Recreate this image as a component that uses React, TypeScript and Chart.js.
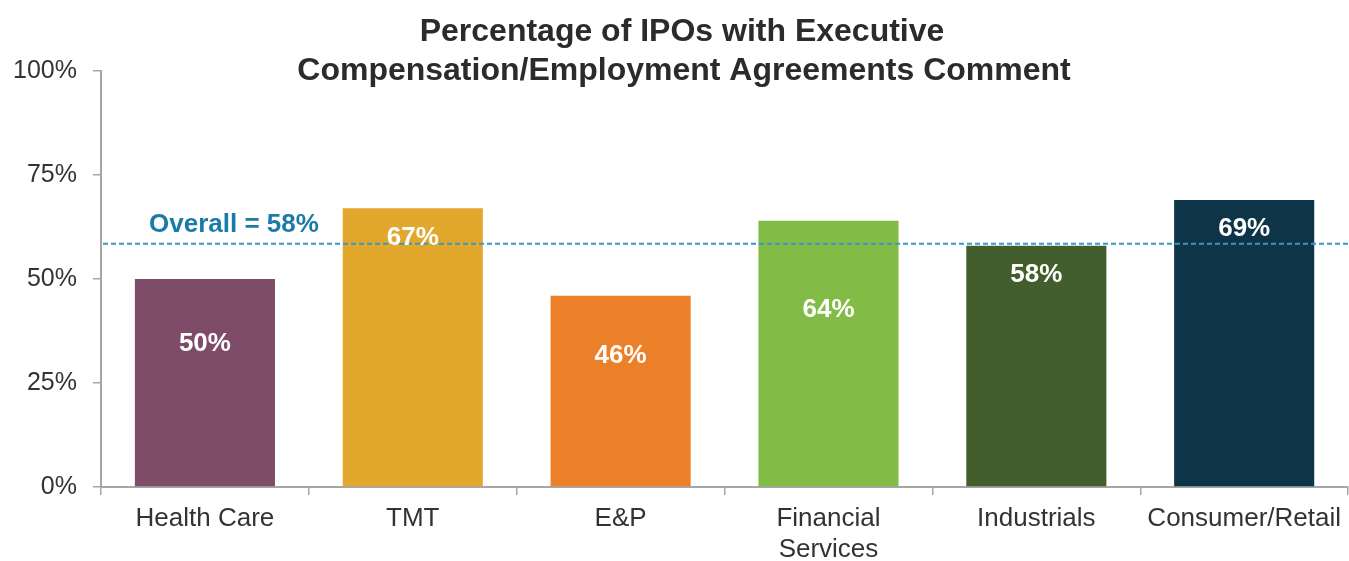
import React, { useEffect, useRef } from "react";
import { Chart, registerables } from "chart.js";

Chart.register(...registerables);

const CATEGORIES: (string | string[])[] = [
  "Health Care",
  "TMT",
  "E&P",
  ["Financial", "Services"],
  "Industrials",
  "Consumer/Retail",
];
const VALUES = [50, 67, 46, 64, 58, 69];
const OVERALL = 58.5;
const OVERALL_LABEL = "Overall = 58%";
const Y_TICKS = [0, 25, 50, 75, 100];
const TITLE = ["Percentage of IPOs with Executive", "Compensation/Employment Agreements Comment"];

const BAR_COLORS = ["#7E4C69", "#E2A82E", "#EC8029", "#82BC46", "#425E2C", "#0D3447"];
// label centre offset (px) below bar top, styling only
const LABEL_OFFSETS = [65, 30, 60, 89, 29, 29];
const FONT = "'Liberation Sans', Arial, sans-serif";

const overlayPlugin = {
  id: "overlay",
  afterDatasetsDraw(chart: any) {
    const { ctx, chartArea, scales } = chart;
    const y = scales.y;
    // overall line
    const ly = y.getPixelForValue(OVERALL);
    ctx.save();
    ctx.strokeStyle = "#3797C9";
    ctx.lineWidth = 2;
    ctx.setLineDash([5, 3]);
    ctx.beginPath();
    ctx.moveTo(chartArea.left + 2, ly);
    ctx.lineTo(chartArea.right, ly);
    ctx.stroke();
    ctx.setLineDash([]);
    ctx.fillStyle = "#1B7BA8";
    ctx.font = `bold 26px ${FONT}`;
    ctx.textAlign = "left";
    ctx.textBaseline = "alphabetic";
    ctx.fillText(OVERALL_LABEL, 149, 232);
    // data labels
    const meta = chart.getDatasetMeta(0);
    ctx.fillStyle = "#FFFFFF";
    ctx.font = `bold 26px ${FONT}`;
    ctx.textAlign = "center";
    ctx.textBaseline = "middle";
    meta.data.forEach((bar: any, i: number) => {
      ctx.fillText(`${VALUES[i]}%`, bar.x, bar.y + LABEL_OFFSETS[i]);
    });
    // title
    ctx.fillStyle = "#2B2B2B";
    ctx.font = `bold 32px ${FONT}`;
    ctx.textAlign = "center";
    ctx.textBaseline = "middle";
    ctx.fillText(TITLE[0], 682, 32);
    ctx.fillText(TITLE[1], 684, 71);
    ctx.restore();
  },
};

export default function App() {
  const ref = useRef<HTMLCanvasElement | null>(null);
  useEffect(() => {
    document.body.style.margin = "0";
    if (!ref.current) return;
    const chart = new Chart(ref.current, {
      type: "bar",
      data: {
        labels: CATEGORIES as any,
        datasets: [
          {
            data: VALUES,
            backgroundColor: BAR_COLORS,
            categoryPercentage: 0.674,
            barPercentage: 1,
          },
        ],
      },
      plugins: [overlayPlugin],
      options: {
        responsive: false,
        animation: false,
        layout: { padding: { top: 71, right: 0, left: 0, bottom: 0 } },
        plugins: {
          legend: { display: false },
          tooltip: { enabled: false },
          title: { display: false },
        },
        scales: {
          x: {
            grid: {
              display: true,
              drawOnChartArea: false,
              drawTicks: true,
              tickLength: 8,
              color: "#A6A6A6",
              lineWidth: 1.5,
              offset: true,
            },
            border: { display: true, color: "#A6A6A6", width: 2 },
            ticks: {
              color: "#333333",
              font: { family: FONT, size: 26 },
              padding: 8,
              maxRotation: 0,
              autoSkip: false,
            },
            afterFit: (s: any) => {
              s.height = 74;
            },
          },
          y: {
            min: 0,
            max: 100,
            afterBuildTicks: (s: any) => {
              s.ticks = Y_TICKS.map((v) => ({ value: v }));
            },
            grid: {
              display: true,
              drawOnChartArea: false,
              drawTicks: true,
              tickLength: 8,
              color: "#A6A6A6",
              lineWidth: 1.5,
            },
            border: { display: true, color: "#A6A6A6", width: 2 },
            ticks: {
              color: "#333333",
              font: { family: FONT, size: 25 },
              padding: 16,
              callback: (v: any) => `${v}%`,
            },
            afterFit: (s: any) => {
              s.width = 101;
            },
          },
        },
      },
    });
    return () => chart.destroy();
  }, []);
  return <canvas ref={ref} width={1349} height={561} style={{ display: "block" }} />;
}
